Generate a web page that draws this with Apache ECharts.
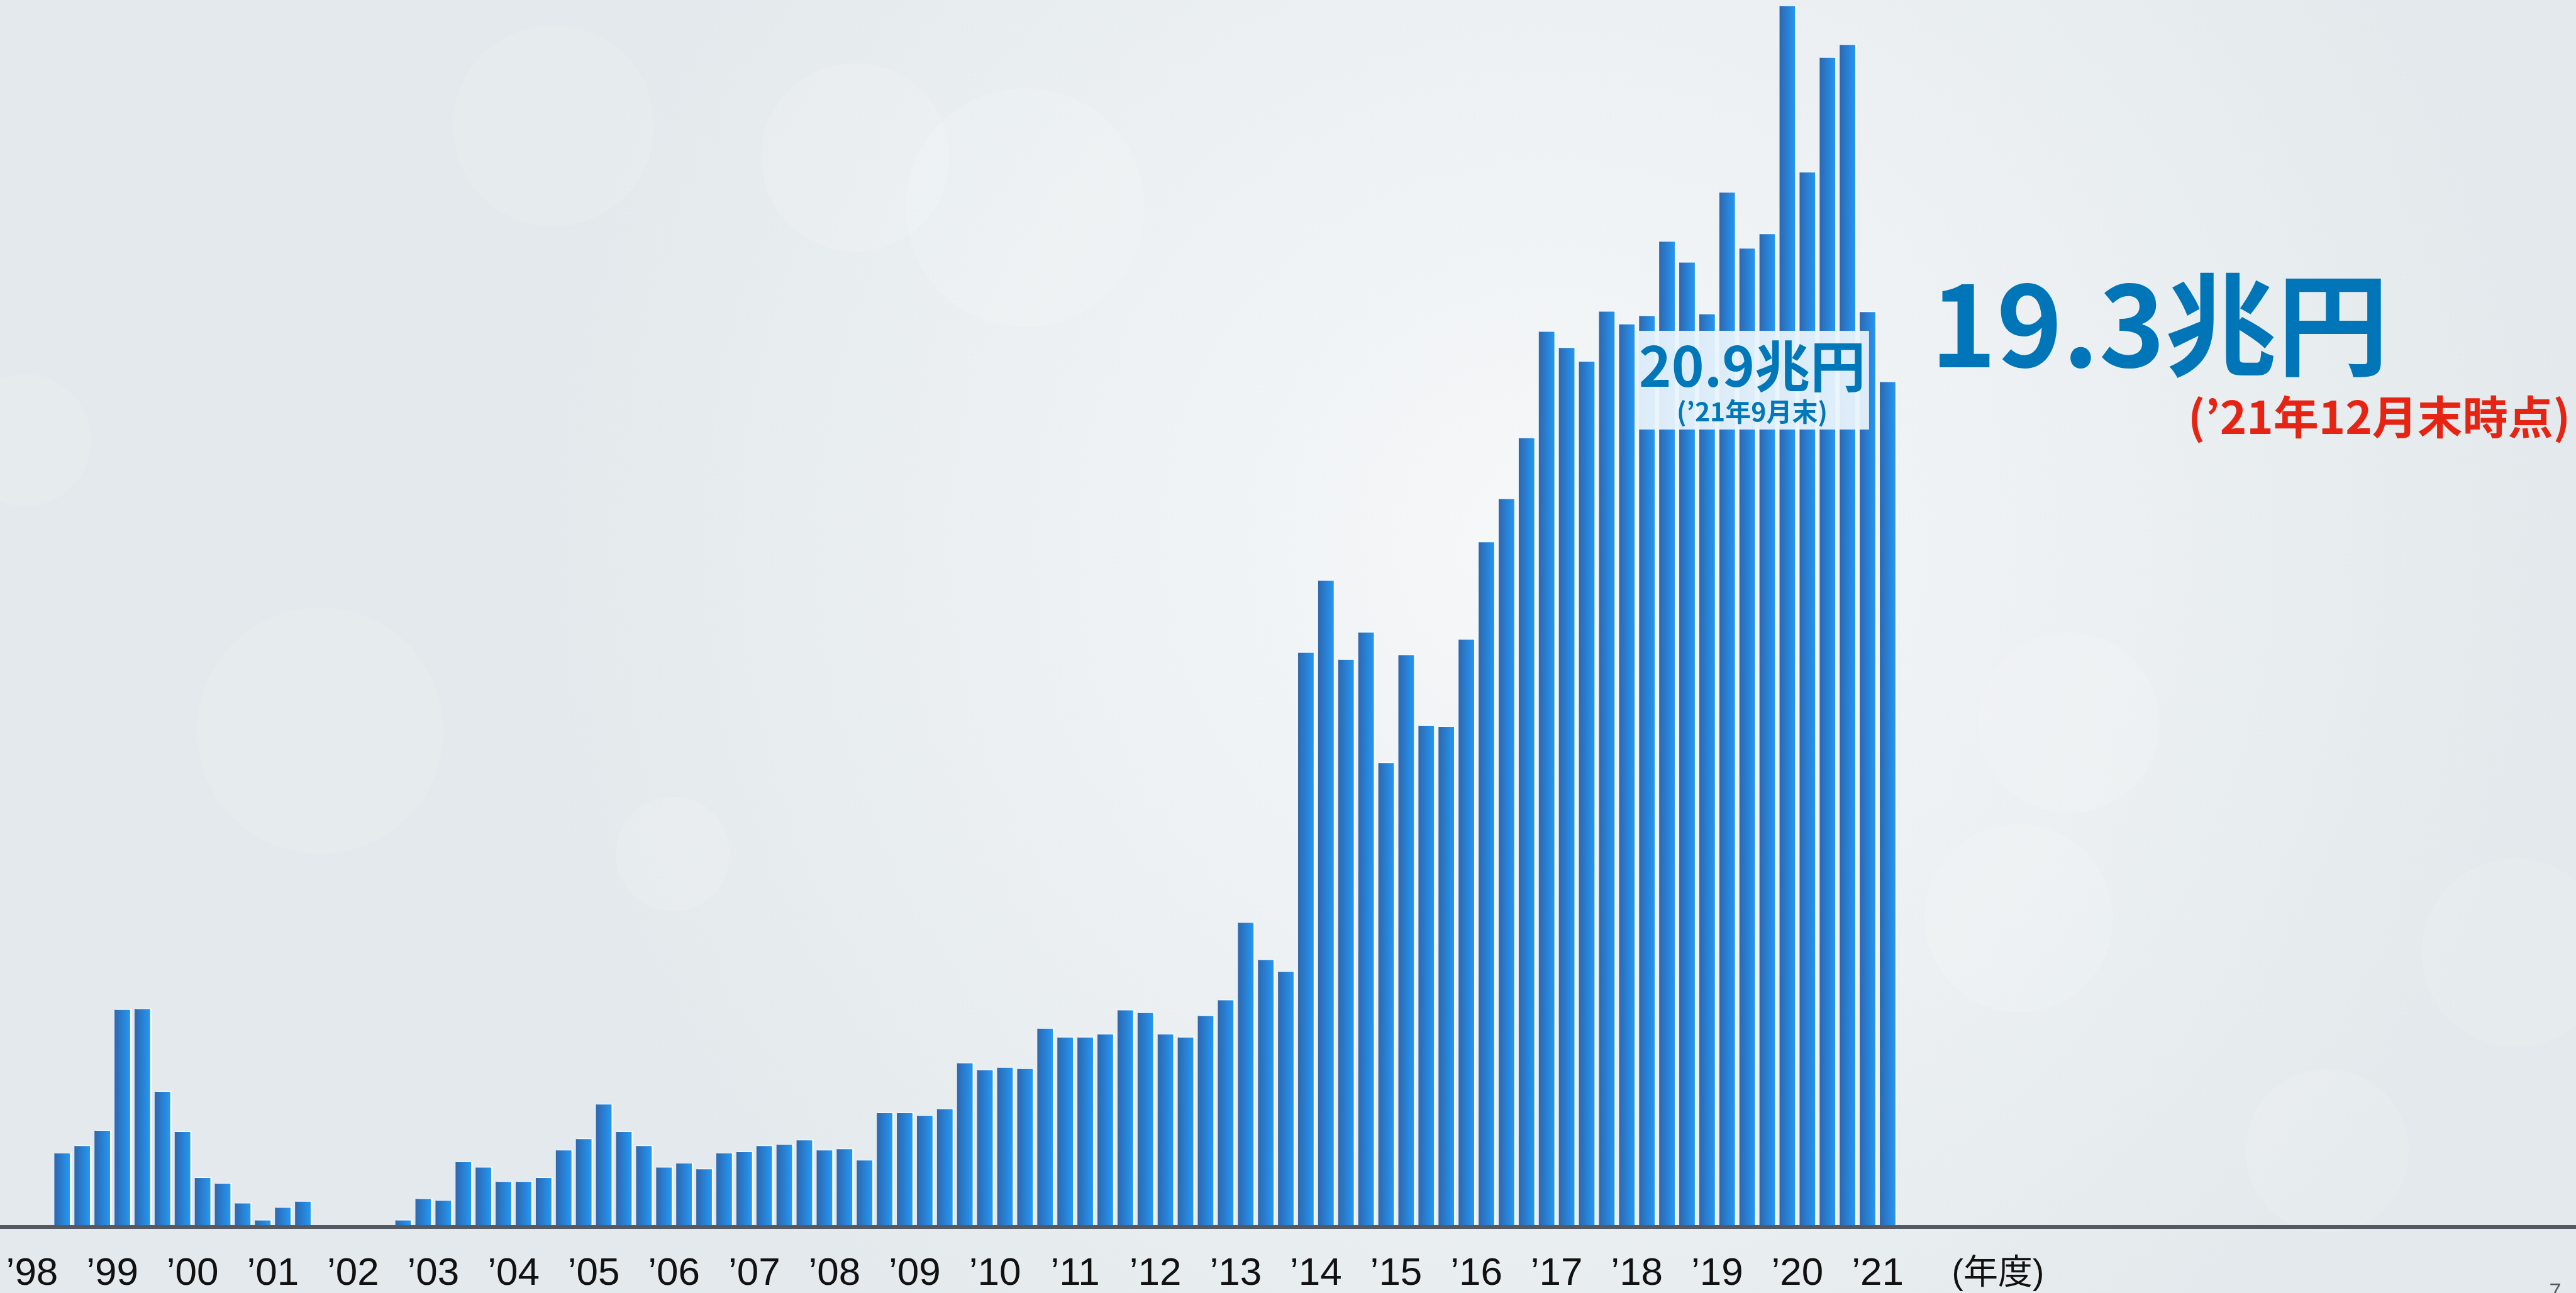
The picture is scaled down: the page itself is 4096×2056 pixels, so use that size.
<!DOCTYPE html>
<html>
<head>
<meta charset="utf-8">
<script src="https://cdn.jsdelivr.net/npm/echarts@6/dist/echarts.min.js"></script>
<style>
html,body{margin:0;padding:0;overflow:hidden;}
#chart{width:4096px;height:2056px;}
</style>
</head>
<body>
<div id="chart"></div>
<script>
// ---- data ----
const fiscalYears = [1998,1999,2000,2001,2002,2003,2004,2005,2006,2007,2008,2009,2010,2011,2012,2013,2014,2015,2016,2017,2018,2019,2020,2021];
const yearLabels = ["’98","’99","’00","’01","’02","’03","’04","’05","’06","’07","’08","’09","’10","’11","’12","’13","’14","’15","’16","’17","’18","’19","’20","’21"];
const quarterNames = ["Q1","Q2","Q3","Q4"];
const unitLabel = "(年度)";
// quarter-end balances (兆円), fiscal year order Q1..Q4
const balance = [
  null, null, null, 1.68,      // '98
  1.85, 2.20, 4.96, 4.98,      // '99
  3.09, 2.17, 1.12, 0.99,      // '00
  0.54, 0.15, 0.44, 0.58,      // '01
  0, 0, 0, 0,                  // '02
  0.15, 0.64, 0.60, 1.48,      // '03
  1.36, 1.03, 1.03, 1.12,      // '04
  1.75, 2.01, 2.80, 2.17,      // '05
  1.85, 1.36, 1.45, 1.32,      // '06
  1.68, 1.71, 1.85, 1.88,      // '07
  1.98, 1.75, 1.78, 1.52,      // '08
  2.60, 2.60, 2.54, 2.69,      // '09
  3.74, 3.58, 3.64, 3.61,      // '10
  4.53, 4.33, 4.33, 4.40,      // '11
  4.95, 4.89, 4.40, 4.33,      // '12
  4.82, 5.18, 6.95, 6.10,      // '13
  5.83, 13.12, 14.76, 12.96,   // '14
  13.58, 10.60, 13.06, 11.45,  // '15
  11.42, 13.42, 15.64, 16.63,  // '16
  18.02, 20.45, 20.08, 19.77,  // '17
  20.91, 20.62, 20.81, 22.51,  // '18
  22.03, 20.85, 23.63, 22.35,  // '19
  22.68, 27.89, 24.09, 26.71,  // '20
  27.00, 20.9, 19.3, null      // '21
];
const calloutMain = "20.9兆円";
const calloutSub = "(’21年9月末)";
const headline = "19.3兆円";
const headlineSub = "(’21年12月末時点)";
const pageNo = "7";

// ---- categories (quarters) plus empty slots so the axis runs to the right edge ----
const categories = [];
fiscalYears.forEach(y => quarterNames.forEach(q => categories.push(y + q)));
const padCount = 33;
for (let i = 0; i < padCount; i++) categories.push('pad' + i);
const unitIndex = fiscalYears.length * 4 + 3;

// ---- layout (window px) ----
const S = 0.854;
const pitch = 37.35 * S;
const gridLeft = -15.0 * S;
const baseY = 2284.6 * S;
const gridTop = 2;

const chart = echarts.init(document.getElementById('chart'), null, {renderer: 'canvas'});

const bokeh = [
  [509,1162,196],[1070,1358,91],[1630,330,190],[1360,250,150],[3290,1149,144],
  [3700,1830,130],[4000,1515,150],[3210,1460,150],[40,700,105],[880,200,160],[2300,1500,170]
].map(c => ({type:'circle', z:0, silent:true, shape:{cx:c[0], cy:c[1], r:c[2]}, style:{fill:'rgba(255,255,255,0.13)'}}));

const jpFont = "'Noto Sans CJK JP', sans-serif";

const option = {
  animation: false,
  backgroundColor: new echarts.graphic.RadialGradient(0.6, 0.42, 0.8, [
    {offset: 0, color: '#f6f8f9'},
    {offset: 1, color: '#e3e9ec'}
  ]),
  grid: {left: gridLeft, top: gridTop, width: pitch * categories.length, height: baseY - gridTop,
         containLabel: false, outerBoundsMode: 'none'},
  xAxis: {
    type: 'category',
    data: categories,
    boundaryGap: true,
    z: 10,
    axisLine: {show: true, lineStyle: {color: '#545962', width: 6}},
    axisTick: {show: false},
    axisLabel: {
      interval: 0,
      margin: 44,
      fontSize: 62,
      lineHeight: 62,
      fontFamily: "'Liberation Sans', 'Noto Sans CJK JP', sans-serif",
      color: '#111111',
      padding: [0, 0, 0, pitch],
      formatter: function (v, idx) {
        if (idx === unitIndex) return '{u|' + unitLabel + '}';
        if (idx % 4 === 1) {
          const k = (idx - 1) / 4;
          if (k < yearLabels.length) return yearLabels[k];
        }
        return '';
      },
      rich: {
        u: {fontSize: 55, lineHeight: 62, color: '#111111',
            fontFamily: "'Liberation Sans', 'Noto Sans CJK JP', sans-serif"}
      }
    },
    splitLine: {show: false}
  },
  yAxis: {type: 'value', min: 0, max: 28, show: false, splitLine: {show: false}},
  series: [{
    type: 'bar',
    data: balance,
    barWidth: 24.8,
    silent: true,
    itemStyle: {
      color: new echarts.graphic.LinearGradient(0, 0, 1, 0, [
        {offset: 0, color: '#2e67b0'},
        {offset: 1, color: '#2398f4'}
      ]),
      shadowColor: '#ffffff',
      shadowBlur: 0,
      shadowOffsetX: 2.3,
      shadowOffsetY: -1
    }
  }],
  graphic: bokeh.concat([
    {type: 'rect', z: 100, silent: true, shape: {x: 2599.6, y: 526, width: 372.3, height: 157.1},
     style: {fill: 'rgba(233,243,251,0.94)'}},
    {type: 'text', z: 101, silent: true, x: 2786, y: 582,
     style: {text: calloutMain, fill: '#0077b9', font: "bold 88px " + jpFont, align: 'center', verticalAlign: 'middle'}},
    {type: 'text', z: 101, silent: true, x: 2786, y: 654,
     style: {text: calloutSub, fill: '#0077b9', font: "bold 41px " + jpFont, align: 'center', verticalAlign: 'middle'}},
    {type: 'text', z: 101, silent: true, x: 3434, y: 516,
     style: {text: headline, fill: '#0076b9', font: "bold 178px " + jpFont, align: 'center', verticalAlign: 'middle'}},
    {type: 'text', z: 101, silent: true, x: 3783, y: 663,
     style: {text: headlineSub, fill: '#e62414', font: "bold 72px " + jpFont, align: 'center', verticalAlign: 'middle'}},
    {type: 'text', z: 101, silent: true, x: 4063, y: 2038,
     style: {text: pageNo, fill: '#58595b', font: "34px 'Liberation Sans', sans-serif", align: 'center', verticalAlign: 'top'}}
  ])
};
chart.setOption(option);
</script>
</body>
</html>
